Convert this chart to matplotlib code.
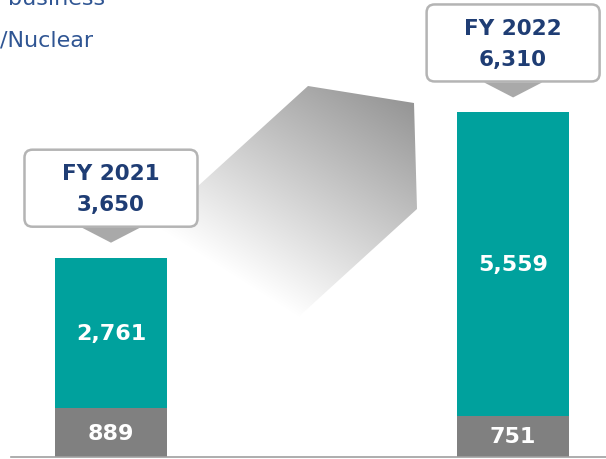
import matplotlib
matplotlib.use('Agg')
import matplotlib.pyplot as plt
import matplotlib.patches as mpatches
import numpy as np

# FY data (bottom = grey segment, top = teal segment)
years = ['FY 2021', 'FY 2022']
grey_vals = [889, 751]
teal_vals = [2761, 5559]
totals = [3650, 6310]
legend_lines = ['business', '/Nuclear']

TEAL = '#00a19d'
GREY = '#808080'
NAVY = '#1f3d74'
LEG_BLUE = '#2f5593'
W, H = 606, 460

fig = plt.figure(figsize=(W / 100, H / 100), dpi=100)

# background layer in pixel coords (gradient arrow)
ax_bg = fig.add_axes([0, 0, 1, 1], zorder=0)
ax_bg.set_xlim(0, W)
ax_bg.set_ylim(H, 0)
ax_bg.axis('off')

poly = mpatches.Polygon([(308, 87), (414, 104), (417, 210), (250, 362), (120, 258)],
                        closed=True, facecolor='none', edgecolor='none')
ax_bg.add_patch(poly)
xx, yy = np.meshgrid(np.arange(W), np.arange(H))
v = np.clip(207.8 - 0.235 * xx + 0.37 * yy, 0, 255) / 255.0
img = np.dstack([v, v, v])
im = ax_bg.imshow(img, extent=(0, W, H, 0), origin='upper', interpolation='bilinear')
im.set_clip_path(poly)

# data layer
ax = fig.add_axes([0, 0, 1, 1], zorder=1)
ax.patch.set_alpha(0)
x = np.arange(len(years))
bw = 0.279
ax.bar(x, grey_vals, bw, color=GREY, linewidth=0)
ax.bar(x, teal_vals, bw, bottom=grey_vals, color=TEAL, linewidth=0)
ax.set_xlim(-0.276, 1.231)
ax.set_ylim(-37, 8388)
ax.axis('off')
ax.axhline(0, xmin=11 / W, xmax=1, color='#a0a0a0', lw=1.2)

for i in range(len(years)):
    ax.text(x[i], grey_vals[i] / 2, f'{grey_vals[i]:,}', ha='center', va='center',
            color='white', fontsize=16, fontweight='bold')
    ax.text(x[i], grey_vals[i] + teal_vals[i] / 2, f'{teal_vals[i]:,}', ha='center',
            va='center', color='white', fontsize=16, fontweight='bold')

# foreground layer: callouts + legend text
ax_fg = fig.add_axes([0, 0, 1, 1], zorder=2)
ax_fg.patch.set_alpha(0)
ax_fg.set_xlim(0, W)
ax_fg.set_ylim(H, 0)
ax_fg.axis('off')

bw_px, bh_px = 173, 77
for i in range(len(years)):
    dx, dy = ax.transData.transform((x[i], totals[i]))
    cx, top = dx, H - dy
    bottom = top - 31
    box = mpatches.FancyBboxPatch((cx - bw_px / 2 + 8, bottom - bh_px + 8), bw_px - 16, bh_px - 16,
                                  boxstyle='round,pad=8', facecolor='white',
                                  edgecolor='#b4b4b4', linewidth=1.8)
    ax_fg.add_patch(box)
    tri = mpatches.Polygon([(cx - 29, bottom + 1), (cx + 29, bottom + 1), (cx, top - 15)],
                           closed=True, facecolor='#a9a9a9', edgecolor='none')
    ax_fg.add_patch(tri)
    mid = bottom - bh_px / 2
    ax_fg.text(cx, mid - 15, years[i], ha='center', va='center', color=NAVY,
               fontsize=15.5, fontweight='bold')
    ax_fg.text(cx, mid + 16, f'{totals[i]:,}', ha='center', va='center', color=NAVY,
               fontsize=15.5, fontweight='bold')

ax_fg.text(8, 5, legend_lines[0], ha='left', va='baseline', color=LEG_BLUE, fontsize=16)
ax_fg.text(0, 46, legend_lines[1], ha='left', va='baseline', color=LEG_BLUE, fontsize=16)

fig.savefig('out.png', dpi=100)
